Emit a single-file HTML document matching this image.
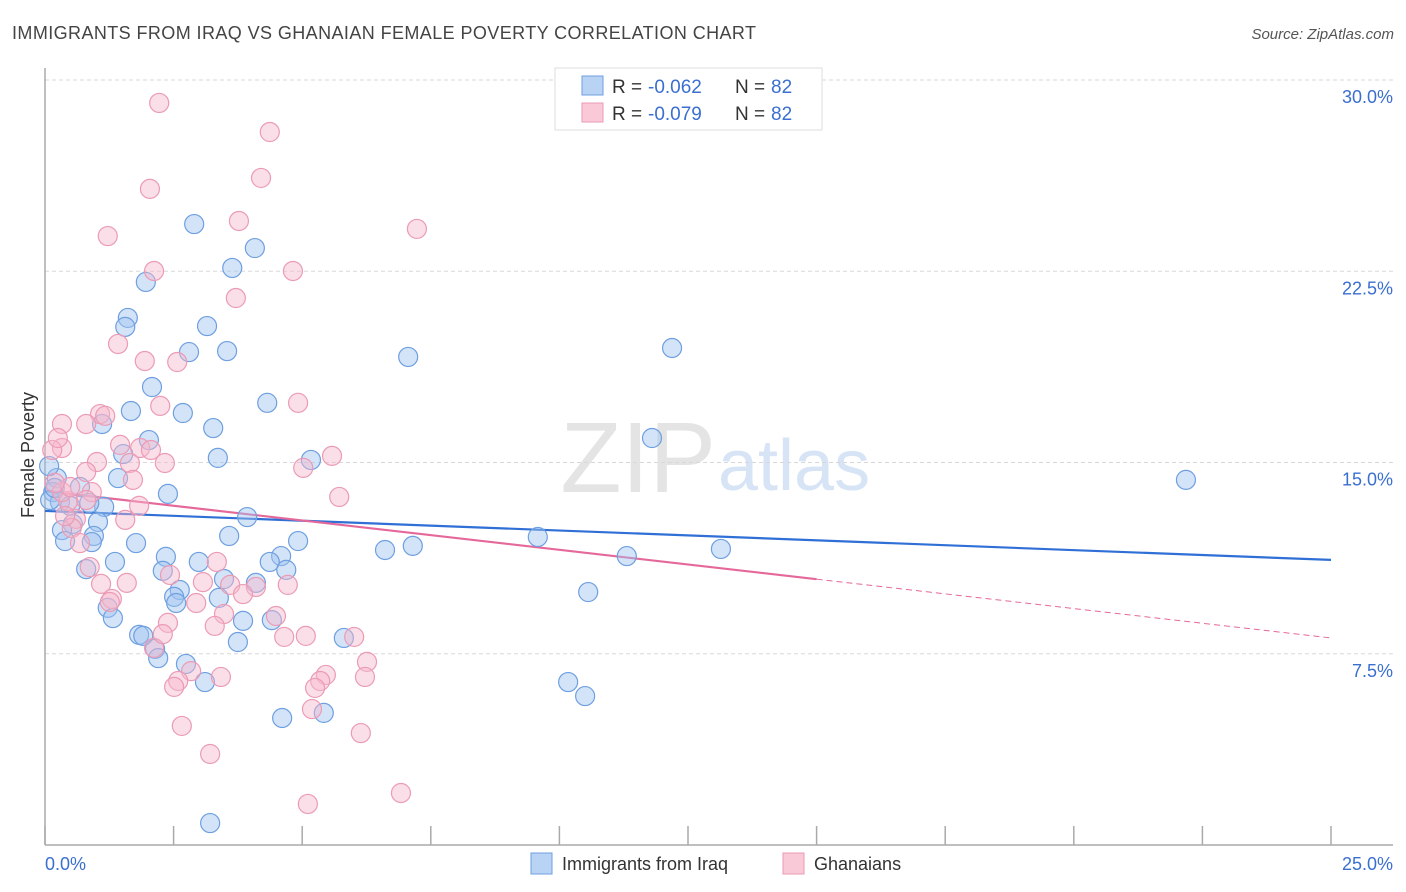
<!DOCTYPE html>
<html><head><meta charset="utf-8">
<style>
body{margin:0;background:#fff;font-family:"Liberation Sans",sans-serif;}
#wrap{position:relative;width:1406px;height:892px;overflow:hidden;}
svg text{font-family:"Liberation Sans",sans-serif;}
</style></head>
<body>
<div id="wrap">
<svg id="chart" width="1406" height="892">
  <text x="12" y="39" font-size="18" fill="#444" textLength="744" lengthAdjust="spacing">IMMIGRANTS FROM IRAQ VS GHANAIAN FEMALE POVERTY CORRELATION CHART</text>
  <text x="1394" y="39" font-size="15" fill="#555" font-style="italic" text-anchor="end">Source: ZipAtlas.com</text>
  <text x="716" y="492" font-size="100" fill="#e4e4e4" text-anchor="end" font-family="Liberation Serif">ZIP</text>
  <text x="718" y="490" font-size="72" fill="#d6e4f5">atlas</text>
  <g id="grid"></g>
  <g id="axes"></g>
  <g id="trends"></g>
  <g id="pts"></g>
  <text transform="translate(34,455) rotate(-90)" font-size="18" fill="#333" text-anchor="middle">Female Poverty</text>
  <text x="45" y="870" font-size="18" fill="#3a6fd0">0.0%</text>
  <text x="1393" y="870" font-size="18" fill="#3a6fd0" text-anchor="end">25.0%</text>
  <g>
    <rect x="555" y="68" width="267" height="62" fill="#fff" stroke="#ddd"/>
    <rect x="582" y="76" width="21" height="19" fill="#b9d3f5" stroke="#6e9fe0"/>
    <rect x="582" y="103" width="21" height="19" fill="#f9c9d7" stroke="#eb9bb5"/>
    <text x="612" y="93" font-size="19" fill="#333">R =</text>
    <text x="648" y="93" font-size="19" fill="#3a6fd0">-0.062</text>
    <text x="735" y="93" font-size="19" fill="#333">N =</text>
    <text x="771" y="93" font-size="19" fill="#3a6fd0">82</text>
    <text x="612" y="120" font-size="19" fill="#333">R =</text>
    <text x="648" y="120" font-size="19" fill="#3a6fd0">-0.079</text>
    <text x="735" y="120" font-size="19" fill="#333">N =</text>
    <text x="771" y="120" font-size="19" fill="#3a6fd0">82</text>
  </g>
  <g>
    <rect x="531" y="853" width="21" height="21" fill="#b9d3f5" stroke="#6e9fe0"/>
    <text x="562" y="870" font-size="18" fill="#333">Immigrants from Iraq</text>
  </g>
  <g>
    <rect x="783" y="853" width="21" height="21" fill="#f9c9d7" stroke="#eb9bb5"/>
    <text x="814" y="870" font-size="18" fill="#333">Ghanaians</text>
  </g>
</svg>
</div>
<script>
const yTicks=[7.5,15,22.5,30];
const yTickLabels=["7.5%","15.0%","22.5%","30.0%"];
const xTicks=[0,2.5,5,7.5,10,12.5,15,17.5,20,22.5,25];
const iraqX=[2.90,4.08,3.64,1.96,1.61,1.56,3.15,2.80,3.54,7.06,12.19,2.08,4.32,1.67,2.68,1.11,3.27,2.02,11.80,1.52,3.36,5.17,22.18,1.42,0.23,0.68,2.39,0.16,0.29,0.49,1.15,0.86,3.93,1.03,0.54,0.33,3.58,0.95,0.91,0.39,4.92,9.58,7.15,6.61,13.14,1.77,2.35,11.31,4.59,4.37,2.99,1.36,0.80,2.29,4.69,3.48,4.10,2.62,10.56,2.51,3.38,2.55,1.22,1.32,3.85,4.41,1.83,1.91,5.81,3.75,2.14,2.20,2.74,10.17,3.11,10.50,4.61,5.42,3.21,0.10,0.19,0.08];
const iraqY=[24.35,23.41,22.63,22.08,20.67,20.32,20.35,19.33,19.37,19.14,19.49,17.96,17.34,17.02,16.94,16.51,16.35,15.88,15.96,15.33,15.18,15.10,14.32,14.39,14.39,14.04,13.77,13.84,13.45,13.30,13.26,13.41,12.86,12.67,12.59,12.35,12.12,12.12,11.88,11.92,11.92,12.08,11.73,11.57,11.61,11.84,11.30,11.33,11.33,11.10,11.10,11.10,10.82,10.75,10.79,10.43,10.28,10.00,9.92,9.73,9.69,9.49,9.30,8.90,8.79,8.82,8.24,8.20,8.12,7.96,7.69,7.33,7.10,6.39,6.39,5.84,4.98,5.18,0.86,13.53,14.00,14.86];
const ghX=[2.22,4.37,2.04,4.20,3.77,1.22,7.23,2.12,4.82,3.71,1.42,1.94,2.57,4.92,2.24,1.07,0.80,1.17,0.33,1.46,1.85,2.06,5.58,5.02,2.33,1.65,1.01,0.80,1.71,5.72,0.91,0.45,1.83,0.60,1.56,0.52,0.68,0.87,2.43,3.34,1.09,1.59,3.07,3.60,4.10,4.72,1.30,2.94,4.49,3.48,2.39,3.30,5.07,4.65,6.01,2.12,6.26,2.84,2.59,3.42,5.46,6.22,5.35,2.51,5.25,5.19,2.66,6.14,3.21,6.92,5.11,0.33,0.14,0.33,0.49,0.19,0.39,0.80,3.85,1.26,2.29,0.25];
const ghY=[29.10,27.96,25.73,26.16,24.47,23.88,24.16,22.51,22.51,21.45,19.65,18.98,18.94,17.34,17.22,16.90,16.51,16.83,16.51,15.69,15.57,15.49,15.26,14.79,14.98,14.98,15.02,14.63,14.32,13.65,13.84,13.49,13.30,12.79,12.75,12.43,11.84,10.90,10.59,11.10,10.24,10.28,10.31,10.20,10.12,10.20,9.65,9.49,8.98,9.06,8.71,8.59,8.20,8.16,8.16,7.73,7.18,6.82,6.43,6.59,6.67,6.59,6.43,6.20,6.16,5.33,4.67,4.39,3.57,2.04,1.61,15.57,15.49,13.84,14.04,14.20,12.90,13.53,9.84,9.53,8.27,15.96];
const iraqTrend=[13.10,11.18];
const ghTrend=[13.88,8.12];
const ghSolidEnd=15;

const NS="http://www.w3.org/2000/svg";
const X0=45,X1=1331,Y0=845,PXY=25.5;
function sx(v){return X0+v*(X1-X0)/25;}
function sy(v){return Y0-v*PXY;}
function mk(tag,attrs,parent){const e=document.createElementNS(NS,tag);for(const k in attrs)e.setAttribute(k,attrs[k]);parent.appendChild(e);return e;}

const grid=document.getElementById('grid');
yTicks.forEach((t,i)=>{
  const l=mk('line',{x1:X0,x2:1393,y1:sy(t),y2:sy(t),stroke:'#d8d8d8','stroke-dasharray':'4,3'},grid);
  
  
  const tx=mk('text',{x:1393,y:sy(t)+23,'font-size':18,fill:'#3a6fd0','text-anchor':'end'},grid);
  tx.textContent=yTickLabels[i];
  
  
});
const axes=document.getElementById('axes');
const ya=mk('line',{x1:X0,x2:X0,y1:68,y2:Y0,stroke:'#aaa','stroke-width':1.5},axes);


const xa=mk('line',{x1:X0,x2:1393,y1:Y0,y2:Y0,stroke:'#aaa','stroke-width':1.5},axes);


xTicks.forEach(t=>{
  const l=mk('line',{x1:sx(t),x2:sx(t),y1:Y0,y2:Y0-19,stroke:'#aaa','stroke-width':1.5},axes);
  
  
});

const tr=document.getElementById('trends');
const bt=mk('line',{x1:sx(0),y1:sy(iraqTrend[0]),x2:sx(25),y2:sy(iraqTrend[1]),stroke:'#2f6fd6','stroke-width':2.2},tr);


const slope=(ghTrend[1]-ghTrend[0])/25;
const pt1=mk('line',{x1:sx(0),y1:sy(ghTrend[0]),x2:sx(ghSolidEnd),y2:sy(ghTrend[0]+slope*ghSolidEnd),stroke:'#e5689a','stroke-width':2.2},tr);


const pt2=mk('line',{x1:sx(ghSolidEnd),y1:sy(ghTrend[0]+slope*ghSolidEnd),x2:sx(25),y2:sy(ghTrend[1]),stroke:'#e5689a','stroke-width':1,'stroke-dasharray':'6,4'},tr);



const pts=document.getElementById('pts');
iraqX.forEach((x,i)=>{
  const c=mk('circle',{cx:sx(x),cy:sy(iraqY[i]),r:9.5,fill:'rgba(160,195,240,0.45)',stroke:'#6e9fe0','stroke-width':1.2},pts);
  
  
});
ghX.forEach((x,i)=>{
  const c=mk('circle',{cx:sx(x),cy:sy(ghY[i]),r:9.5,fill:'rgba(246,183,203,0.45)',stroke:'#eb9bb5','stroke-width':1.2},pts);
  
  
});
</script>
</body></html>
